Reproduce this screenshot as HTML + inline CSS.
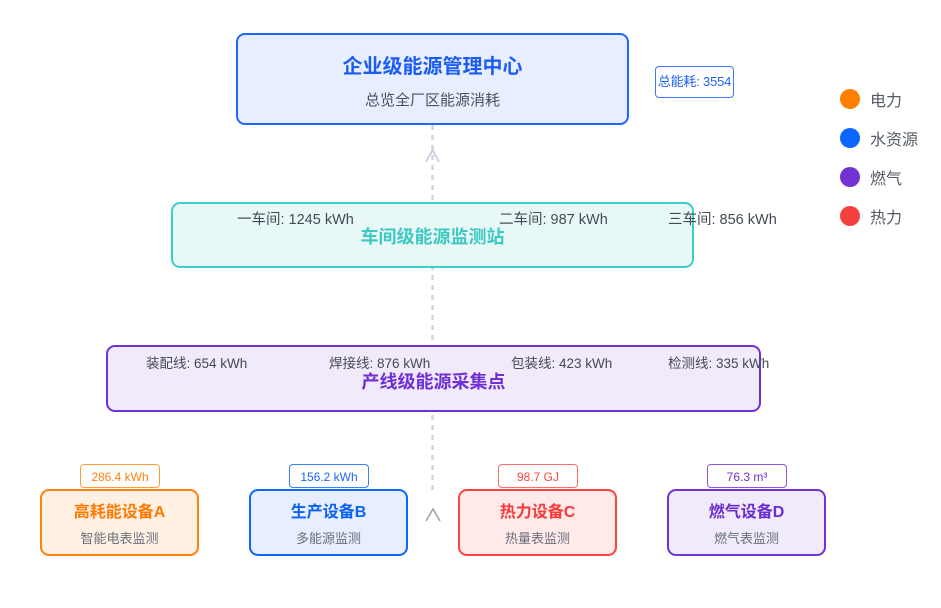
<!DOCTYPE html>
<html><head><meta charset="utf-8">
<style>
*{margin:0;padding:0;box-sizing:border-box;}
body{width:941px;height:608px;background:#fff;position:relative;overflow:hidden;font-family:"Liberation Sans","Noto Sans CJK SC",sans-serif;}
.abs{position:absolute;}
.box{position:absolute;border-style:solid;border-width:2.5px;border-radius:9px;}
.t{position:absolute;white-space:nowrap;}
.c{text-align:center;left:0;right:0;}
.lbl{font-size:14.5px;color:#444a55;}
.badge{position:absolute;border:1.5px solid;border-radius:4px;background:#fff;font-size:12px;text-align:center;}
.dot{position:absolute;width:20px;height:20px;border-radius:50%;}
.leg{position:absolute;font-size:16px;color:#555c66;}
</style></head><body>

<svg class="abs" style="left:0;top:0" width="941" height="608">
  <line x1="432.5" y1="125" x2="432.5" y2="492" stroke="#cdd5e0" stroke-width="2.5" stroke-dasharray="5,5"/>
  <polyline points="426,162 432.5,150 439,162" fill="none" stroke="#c3cad6" stroke-width="1.6"/>
</svg>

<!-- top box -->
<div class="box" style="left:236px;top:33px;width:393px;height:92px;border-color:#2166ff;background:#e7eeff;">
  <div class="t c" style="top:15px;font-size:20px;font-weight:bold;color:#1c5cf5;">企业级能源管理中心</div>
  <div class="t c" style="top:54px;font-size:15px;color:#4b525c;">总览全厂区能源消耗</div>
</div>
<div class="badge" style="left:655px;top:66px;width:79px;height:32px;border-color:#3a78ff;color:#2260f0;line-height:29px;font-size:13px;letter-spacing:-0.2px;">总能耗: 3554</div>

<!-- second box -->
<div class="box" style="left:171px;top:202px;width:523px;height:66px;border-color:#3ccfc9;background:#e8f8f7;">
  <div class="t c" style="top:19px;font-size:18px;font-weight:bold;color:#3cc9c1;">车间级能源监测站</div>
</div>
<div class="t lbl" style="left:237px;top:208px;">一车间: 1245 kWh</div>
<div class="t lbl" style="left:499px;top:208px;">二车间: 987 kWh</div>
<div class="t lbl" style="left:668px;top:208px;">三车间: 856 kWh</div>

<!-- third box -->
<div class="box" style="left:106px;top:345px;width:655px;height:67px;border-color:#7030d8;background:#f1eafa;">
  <div class="t c" style="top:21px;font-size:18px;font-weight:bold;color:#6f2fd6;">产线级能源采集点</div>
</div>
<div class="t lbl" style="left:146px;top:352px;font-size:13.5px;">装配线: 654 kWh</div>
<div class="t lbl" style="left:329px;top:352px;font-size:13.5px;">焊接线: 876 kWh</div>
<div class="t lbl" style="left:511px;top:352px;font-size:13.5px;">包装线: 423 kWh</div>
<div class="t lbl" style="left:668px;top:352px;font-size:13.5px;">检测线: 335 kWh</div>

<svg class="abs" style="left:0;top:0" width="941" height="608">
  <polyline points="426,521 433,509 440,521" fill="none" stroke="#9ea7b4" stroke-width="1.6"/>
</svg>

<!-- bottom boxes -->
<div class="badge" style="left:80px;top:464px;width:80px;height:24px;border-color:#ff9a3a;color:#ff8010;line-height:24px;">286.4 kWh</div>
<div class="box" style="left:40px;top:489px;width:159px;height:67px;border-color:#ff820c;background:#fff0e4;">
  <div class="t c" style="top:7px;font-size:16px;font-weight:bold;color:#ff7a00;">高耗能设备A</div>
  <div class="t c" style="top:37px;font-size:13px;color:#6a717c;">智能电表监测</div>
</div>

<div class="badge" style="left:289px;top:464px;width:80px;height:24px;border-color:#3a80ff;color:#1e66f5;line-height:24px;">156.2 kWh</div>
<div class="box" style="left:249px;top:489px;width:159px;height:67px;border-color:#0d66ff;background:#e6eeff;">
  <div class="t c" style="top:7px;font-size:16px;font-weight:bold;color:#0b62f5;">生产设备B</div>
  <div class="t c" style="top:37px;font-size:13px;color:#6a717c;">多能源监测</div>
</div>

<div class="badge" style="left:498px;top:464px;width:80px;height:24px;border-color:#ff6a6a;color:#ff4545;line-height:24px;">98.7 GJ</div>
<div class="box" style="left:458px;top:489px;width:159px;height:67px;border-color:#ff4242;background:#ffe9e9;">
  <div class="t c" style="top:7px;font-size:16px;font-weight:bold;color:#f53a3a;">热力设备C</div>
  <div class="t c" style="top:37px;font-size:13px;color:#6a717c;">热量表监测</div>
</div>

<div class="badge" style="left:707px;top:464px;width:80px;height:24px;border-color:#8a52e0;color:#6f2fd6;line-height:24px;">76.3 m³</div>
<div class="box" style="left:667px;top:489px;width:159px;height:67px;border-color:#7232d4;background:#f0eafa;">
  <div class="t c" style="top:7px;font-size:16px;font-weight:bold;color:#6a2dcf;">燃气设备D</div>
  <div class="t c" style="top:37px;font-size:13px;color:#6a717c;">燃气表监测</div>
</div>

<!-- legend -->
<div class="dot" style="left:840px;top:89px;background:#ff8000;"></div>
<div class="leg" style="left:870px;top:87px;">电力</div>
<div class="dot" style="left:840px;top:128px;background:#0a66ff;"></div>
<div class="leg" style="left:870px;top:126px;">水资源</div>
<div class="dot" style="left:840px;top:167px;background:#7232d2;"></div>
<div class="leg" style="left:870px;top:165px;">燃气</div>
<div class="dot" style="left:840px;top:206px;background:#f54040;"></div>
<div class="leg" style="left:870px;top:204px;">热力</div>

</body></html>
